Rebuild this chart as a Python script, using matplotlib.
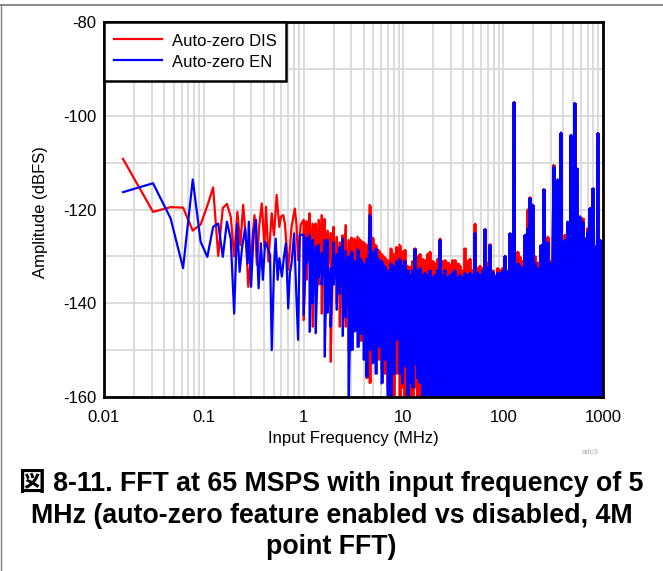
import numpy as np
import matplotlib
matplotlib.use("Agg")
import matplotlib.pyplot as plt
from matplotlib.lines import Line2D
from matplotlib.ticker import FixedLocator, NullFormatter, LogLocator

# ---------------- data ----------------
# Low-frequency region: individual FFT points (MHz, dBFS)
dis_freq_lo = [0.0155, 0.031, 0.0465, 0.062, 0.0775, 0.093, 0.1085, 0.124, 0.1395, 0.155,
               0.1705, 0.186, 0.2015, 0.217, 0.2325, 0.248, 0.2635, 0.279, 0.322, 0.34,
               0.361, 0.381, 0.405, 0.421, 0.444, 0.479, 0.505, 0.537, 0.571, 0.593,
               0.626, 0.65, 0.701, 0.757, 0.816, 0.847, 0.88, 0.935]
dis_db_lo = [-109.2, -120.5, -119.5, -119.6, -124.5, -123.2, -119.2, -115.3, -129.9, -119.7,
             -118.8, -121.5, -130.0, -120.5, -127.6, -119.0, -125.8, -136.5, -121.2, -131.8,
             -123.0, -118.7, -127.9, -119.4, -131.1, -120.8, -125.5, -116.9, -123.7, -121.5,
             -121.2, -123.0, -132.9, -123.7, -119.8, -123.0, -130.8, -123.3]

en_freq_lo = [0.0155, 0.031, 0.0465, 0.062, 0.0775, 0.093, 0.1085, 0.124, 0.1395, 0.155,
              0.1705, 0.186, 0.2015, 0.2158, 0.2286, 0.2425, 0.2594, 0.2752, 0.2824, 0.2976,
              0.316, 0.3336, 0.354, 0.3734, 0.3905, 0.4118, 0.434, 0.4614, 0.4794, 0.5054,
              0.525, 0.5494, 0.5707, 0.6065, 0.635, 0.6647, 0.701, 0.7286, 0.757, 0.8043,
              0.8483, 0.881, 0.9155]
en_db_lo = [-116.3, -114.4, -121.9, -132.5, -113.6, -126.9, -130.1, -123.7, -123.0, -130.1,
            -122.6, -126.2, -142.2, -123.0, -133.3, -127.9, -124.0, -131.5, -122.6, -136.5,
            -124.7, -122.2, -136.8, -127.2, -135.0, -126.9, -128.0, -129.7, -150.0, -132.2,
            -126.2, -135.0, -130.4, -134.3, -130.1, -127.2, -141.1, -133.6, -131.5, -125.1,
            -139.0, -147.8, -125.4]

# Dense region: per-column peak (top) and trough (bottom) of each trace
dense_freq = [1.0, 1.072, 1.148, 1.231, 1.319, 1.413, 1.514, 1.623, 1.739, 1.863,
              1.997, 2.14, 2.293, 2.457, 2.633, 2.82, 3.02, 3.24, 3.47, 3.72,
              3.99, 4.27, 4.58, 4.91, 5.26, 5.63, 6.04, 6.47, 6.93, 7.43,
              7.96, 8.53, 9.14, 9.79,
              10.4, 11.02, 11.67, 12.36, 13.10, 13.88, 14.70, 15.57, 16.50, 17.48,
              18.52, 19.62, 20.78, 22.02, 23.33, 24.71, 26.18, 27.73, 29.38, 31.13,
              32.98, 34.94, 37.01, 39.21, 41.54, 44.01, 46.62, 49.39, 52.33, 55.43,
              58.73, 62.21, 65.91, 69.83, 73.97, 78.37, 83.02, 87.95, 93.18, 98.71,
              104.6, 110.8, 117.4, 124.3, 128.6, 139.5, 147.8, 156.6, 165.9, 175.7,
              186.2, 197.2, 208.9, 221.3, 241.0, 255.0, 278.8, 295.4, 320.0, 351.2,
              380.0, 400.0, 417.6, 442.4, 480.0, 497.0, 520.0, 545.0, 590.3, 625.4,
              662.5, 701.9, 743.6, 800.0, 834.5, 890.0, 936.6, 992.2]

dis_top = [-122.2, -122.5, -120.8, -123.0, -123.0, -122.2, -121.2, -122.0, -124.5, -125.0,
           -123.7, -125.8, -127.0, -125.5, -123.3, -126.5, -126.0, -126.2, -125.8, -126.5,
           -127.0, -127.5, -119.0, -126.0, -127.5, -128.6, -129.4, -130.1, -130.8, -128.3,
           -129.4, -128.0, -127.5, -129.0,
           -128.6, -132.0, -132.2, -131.0, -128.3, -130.0, -129.5, -130.5, -130.8, -129.5,
           -129.0, -131.0, -131.5, -130.5, -126.2, -131.0, -130.8, -131.3, -131.8, -130.8,
           -130.8, -131.5, -132.0, -133.0, -128.3, -131.0, -130.5, -133.0, -123.0, -132.5,
           -132.0, -132.5, -124.2, -131.3, -127.4, -133.0, -134.0, -132.5, -133.0, -132.5,
           -129.9, -133.0, -125.1, -127.8, -97.1, -129.0, -130.1, -131.0, -125.4, -120.0,
           -117.4, -119.0, -130.0, -131.3, -127.6, -115.7, -125.8, -131.0, -110.5, -113.6,
           -103.6, -127.6, -125.4, -122.6, -104.1, -115.5, -97.3, -111.2, -121.5, -121.9,
           -126.2, -124.0, -119.7, -115.5, -127.9, -103.7, -126.5, -127.0]
dis_bot = [-143.6, -135.0, -131.0, -145.0, -137.2, -136.0, -142.2, -128.0, -133.0, -152.5,
           -135.0, -140.0, -145.0, -138.0, -145.0, -150.0, -141.0, -146.0, -142.0, -148.0,
           -145.0, -156.0, -157.0, -148.0, -150.0, -152.0, -154.0, -155.0, -158.0, -162.0,
           -165.0, -155.0, -164.0, -158.0,
           -165.0, -170.0, -160.0, -165.0, -158.0, -162.0, -160.0, -165.0, -170.0, -170.0,
           -170.0, -170.0, -170.0, -170.0, -170.0, -170.0, -170.0, -170.0, -170.0, -170.0,
           -170.0, -170.0, -170.0, -170.0, -170.0, -170.0, -170.0, -170.0, -170.0, -170.0,
           -170.0, -170.0, -170.0, -170.0, -170.0, -170.0, -170.0, -170.0, -170.0, -170.0,
           -170.0, -170.0, -170.0, -170.0, -170.0, -170.0, -170.0, -170.0, -170.0, -170.0,
           -170.0, -170.0, -170.0, -170.0, -170.0, -170.0, -170.0, -170.0, -170.0, -170.0,
           -170.0, -170.0, -170.0, -170.0, -170.0, -170.0, -170.0, -170.0, -170.0, -170.0,
           -170.0, -170.0, -170.0, -170.0, -170.0, -170.0, -170.0, -170.0]

en_top = [-125.4, -126.0, -125.4, -126.5, -127.9, -127.5, -129.3, -126.5, -126.5, -132.5,
          -127.0, -129.5, -128.0, -126.2, -128.8, -130.0, -129.0, -131.0, -128.5, -130.5,
          -131.5, -130.5, -121.2, -129.0, -128.3, -130.5, -131.0, -132.0, -133.0, -131.5,
          -132.0, -131.0, -130.5, -132.0,
          -131.0, -133.0, -134.0, -133.0, -128.5, -133.0, -132.5, -134.0, -133.5, -134.0,
          -133.0, -134.5, -134.0, -133.0, -126.5, -134.0, -133.0, -134.5, -134.0, -133.5,
          -133.0, -134.5, -134.0, -134.5, -133.5, -134.0, -133.5, -134.0, -125.0, -133.5,
          -134.0, -133.0, -124.2, -132.3, -127.6, -133.3, -134.3, -133.5, -133.5, -133.0,
          -129.9, -133.3, -125.1, -128.0, -97.1, -131.5, -132.0, -132.5, -125.4, -124.0,
          -117.6, -119.0, -131.5, -132.5, -127.6, -115.7, -127.0, -131.5, -110.9, -113.6,
          -103.6, -127.6, -126.5, -122.6, -104.1, -115.5, -97.3, -111.2, -121.5, -122.6,
          -126.2, -124.7, -119.7, -115.5, -127.9, -103.7, -126.5, -127.0]
en_bot = [-142.5, -131.5, -146.1, -140.0, -146.4, -134.5, -136.0, -151.4, -142.0, -145.0,
          -136.0, -141.4, -137.9, -147.0, -143.0, -162.0, -150.0, -146.0, -149.3, -146.5,
          -152.0, -155.7, -150.0, -152.8, -155.0, -149.3, -157.1, -152.1, -162.0, -161.0,
          -155.0, -147.8, -155.0, -157.1,
          -153.5, -162.0, -157.0, -158.0, -153.0, -156.0, -157.0, -162.0, -165.0, -170.0,
          -170.0, -170.0, -170.0, -170.0, -170.0, -170.0, -170.0, -170.0, -170.0, -170.0,
          -170.0, -170.0, -170.0, -170.0, -170.0, -170.0, -170.0, -170.0, -170.0, -170.0,
          -170.0, -170.0, -170.0, -170.0, -170.0, -170.0, -170.0, -170.0, -170.0, -170.0,
          -170.0, -170.0, -170.0, -170.0, -170.0, -170.0, -170.0, -170.0, -170.0, -170.0,
          -170.0, -170.0, -170.0, -170.0, -170.0, -170.0, -170.0, -170.0, -170.0, -170.0,
          -170.0, -170.0, -170.0, -170.0, -170.0, -170.0, -170.0, -170.0, -170.0, -170.0,
          -170.0, -170.0, -170.0, -170.0, -170.0, -170.0, -170.0, -170.0]

series_labels = ["Auto-zero DIS", "Auto-zero EN"]
series_colors = ["#ff0000", "#0000ff"]
xtick_vals = [0.01, 0.1, 1, 10, 100, 1000]
xtick_labels = ["0.01", "0.1", "1", "10", "100", "1000"]
ytick_vals = [-160, -140, -120, -100, -80]
ytick_labels = ["-160", "-140", "-120", "-100", "-80"]
yminor_vals = [-150, -130, -110, -90]
caption_lines = ["図 8-11. FFT at 65 MSPS with input frequency of 5",
                 "MHz (auto-zero feature enabled vs disabled, 4M",
                 "point FFT)"]

# ---------------- build traces ----------------
def trace(f_lo, v_lo, f_dense, top, bot):
    f_d = np.repeat(np.asarray(f_dense, float), 2)
    v_d = np.column_stack([top, bot]).ravel()
    return (np.concatenate([np.asarray(f_lo, float), f_d]),
            np.concatenate([np.asarray(v_lo, float), v_d]))

red_f, red_v = trace(dis_freq_lo, dis_db_lo, dense_freq, dis_top, dis_bot)
blue_f, blue_v = trace(en_freq_lo, en_db_lo, dense_freq, en_top, en_bot)

# ---------------- style ----------------
plt.rcParams["font.family"] = ["Liberation Sans", "DejaVu Sans"]
plt.rcParams["axes.unicode_minus"] = False
plt.rcParams["path.simplify"] = False

W, H = 663, 571
fig = plt.figure(figsize=(W / 100, H / 100), dpi=100)
ax = fig.add_axes([104 / W, 1 - 397 / H, 499 / W, 375 / H])

dfreq = np.asarray(dense_freq)
col_lw = np.where(dfreq >= 10, 2.7, np.where(dfreq >= 3, 2.0, 1.5))
packed = dfreq >= 10  # above 10 MHz the FFT bins fill every pixel column

for f, v, top, bot, col, lab, z in [
        (red_f, red_v, dis_top, dis_bot, series_colors[0], series_labels[0], 3),
        (blue_f, blue_v, en_top, en_bot, series_colors[1], series_labels[1], 4)]:
    ax.plot(f, v, color=col, lw=1.6, label=lab, zorder=z)
    ax.vlines(dense_freq, bot, top, colors=col, linewidths=col_lw, zorder=z)
    ax.fill_between(dfreq[packed], np.asarray(bot)[packed], np.asarray(top)[packed],
                    step="mid", color=col, lw=0, zorder=z)

ax.set_xscale("log")
ax.set_xlim(0.01, 1000)
ax.set_ylim(-160, -80)
ax.xaxis.set_major_locator(FixedLocator(xtick_vals))
ax.set_xticklabels(xtick_labels)
ax.xaxis.set_minor_locator(LogLocator(base=10, subs=range(2, 10), numticks=50))
ax.xaxis.set_minor_formatter(NullFormatter())
ax.yaxis.set_major_locator(FixedLocator(ytick_vals))
ax.set_yticklabels(ytick_labels)
ax.yaxis.set_minor_locator(FixedLocator(yminor_vals))

ax.grid(which="both", color="#d9d9d9", lw=1.3)
ax.set_axisbelow(True)
ax.tick_params(which="both", length=0)
ax.tick_params(axis="x", pad=9.5, labelsize=12)
ax.tick_params(axis="y", pad=5.5, labelsize=12)
for s in ax.spines.values():
    s.set_linewidth(2.0)
    s.set_color("black")
    s.set_zorder(6)

ax.set_xlabel("Input Frequency (MHz)", fontsize=12, va="center")
ax.xaxis.set_label_coords(0.5, (397 - 438) / 375)
ax.set_ylabel("Amplitude (dBFS)", fontsize=12, va="center")
ax.yaxis.set_label_coords((41 - 104) / 499, 0.493)

leg = ax.legend(loc="upper left", bbox_to_anchor=(0, 1), borderaxespad=0,
                fancybox=False, framealpha=1, edgecolor="black", fontsize=12,
                handlelength=2.9, handleheight=1.25, handletextpad=0.55,
                borderpad=0.6, labelspacing=0.2)
leg.get_frame().set_linewidth(1.8)
leg.set_zorder(10)
for h in leg.get_lines():
    h.set_linewidth(1.6)

# caption
cap_y = [491, 523, 554]
for line, yb in zip(caption_lines, cap_y):
    fig.text(0.5, 1 - yb / H, line, ha="center", va="baseline",
             fontsize=19.3, fontweight="bold",
             family=["Liberation Sans", "Noto Sans CJK JP", "DejaVu Sans"])

fig.text(590 / W, 1 - 453 / H, "adc3", fontsize=5.5, color="#aaaaaa",
         ha="center", va="center")

# page frame lines
fig.add_artist(Line2D([0, 1], [1 - 4.5 / H, 1 - 4.5 / H], transform=fig.transFigure,
                      color="#808080", lw=1.3))
fig.add_artist(Line2D([1 / W, 1 / W], [0, 1 - 4.5 / H], transform=fig.transFigure,
                      color="#808080", lw=1.0))

fig.savefig("out.png", dpi=100)
